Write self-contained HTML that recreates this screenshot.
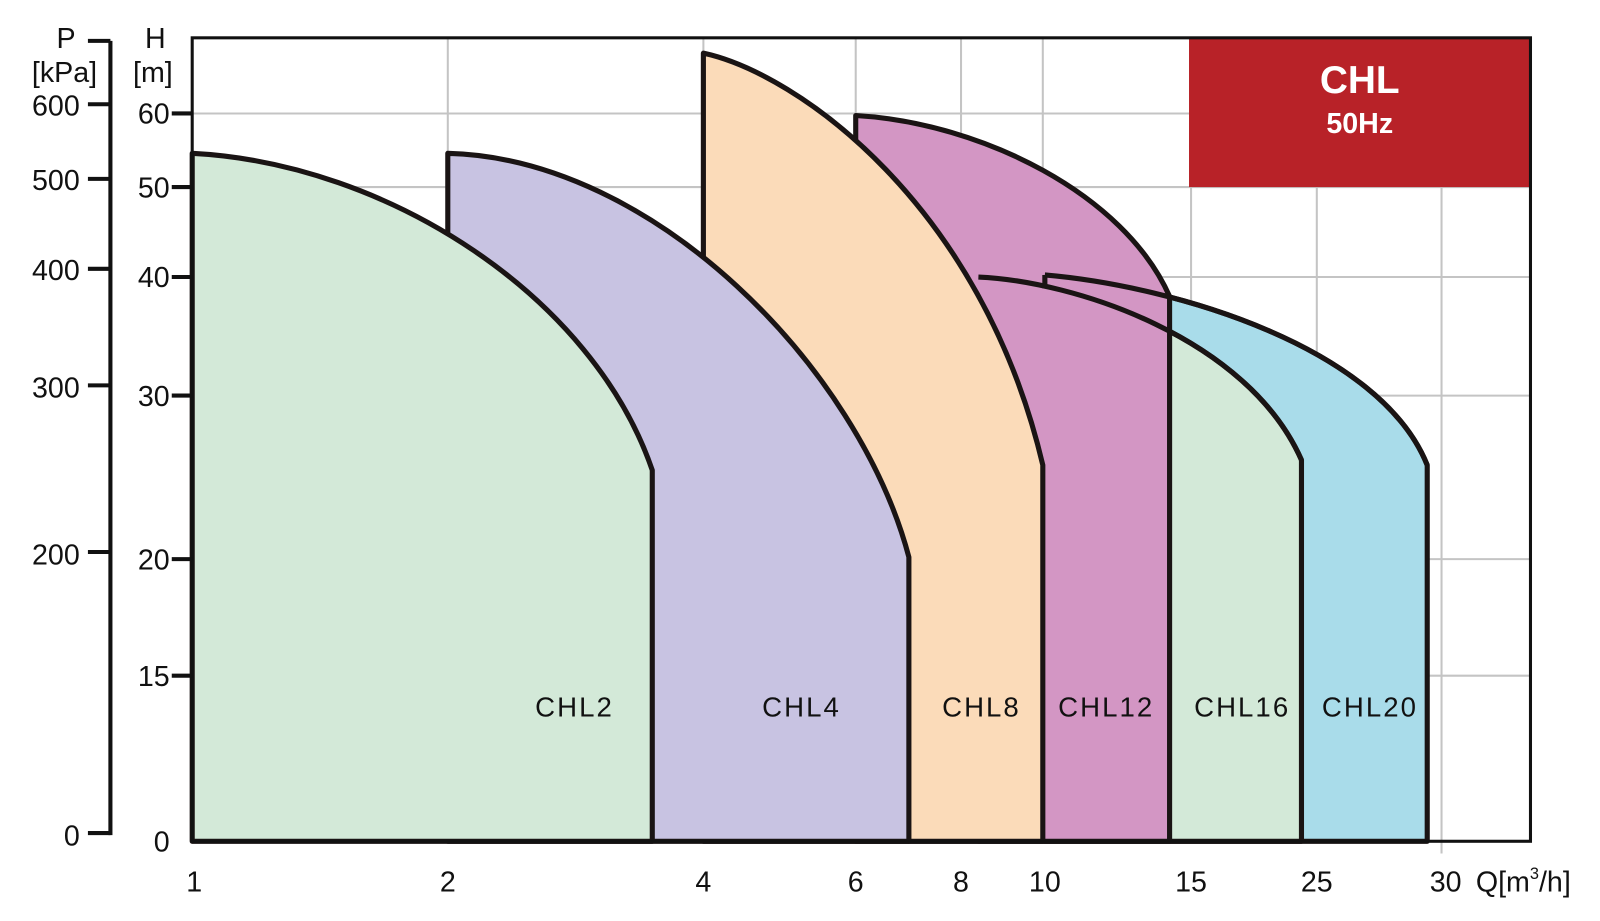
<!DOCTYPE html>
<html><head><style>body{margin:0;background:#fff}svg{display:block}text{font-family:"Liberation Sans",Arial,sans-serif;fill:#111}</style></head>
<body>
<svg width="1600" height="921" viewBox="0 0 1565 901" preserveAspectRatio="none" xmlns="http://www.w3.org/2000/svg">
<g stroke="#c4c4c4" stroke-width="2">
<line x1="438" y1="37" x2="438" y2="823"/><line x1="688" y1="37" x2="688" y2="823"/><line x1="837" y1="37" x2="837" y2="823"/><line x1="940" y1="37" x2="940" y2="823"/><line x1="1020" y1="37" x2="1020" y2="823"/><line x1="1165" y1="37" x2="1165" y2="823"/><line x1="1288" y1="37" x2="1288" y2="823"/><line x1="1410" y1="37" x2="1410" y2="835"/>
<line x1="188" y1="111" x2="1497" y2="111"/><line x1="188" y1="183" x2="1497" y2="183"/><line x1="188" y1="271" x2="1497" y2="271"/><line x1="188" y1="387" x2="1497" y2="387"/><line x1="188" y1="547" x2="1497" y2="547"/><line x1="188" y1="661" x2="1497" y2="661"/>
</g>
<g stroke="#1a1414" stroke-width="5" stroke-linejoin="round">
<path d="M1022,269 C1150,280 1350,340 1396,455 L1396,823 L1022,823 Z" fill="#a9dcea"/>
<path d="M957,271 C1050,275 1220,330 1273,450 L1273,823 L957,823 Z" fill="#d3e9d8"/>
<path d="M837,113 C960,120 1100,190 1144,290 L1144,823 L837,823 Z" fill="#d396c4"/>
<path d="M957,271 C1050,275 1220,330 1273,450" fill="none"/>
<path d="M1022,269 C1150,280 1350,340 1396,455" fill="none"/>
<path d="M1022,269 L1022,282" fill="none"/>
<path d="M688,52 C780,72 960,200 1020,455 L1020,823 L688,823 Z" fill="#fbdbb9"/>
<path d="M438,150 C640,155 840,360 889,545 L889,823 L438,823 Z" fill="#c8c3e2"/>
<path d="M188,150 C380,160 580,290 638,460 L638,823 L188,823 Z" fill="#d3e9d8"/>
</g>
<rect x="1163" y="37" width="334" height="146" fill="#b82228"/>
<text x="1330" y="91" font-size="38" font-weight="bold" text-anchor="middle" style="fill:#fff">CHL</text>
<text x="1330" y="130" font-size="28" font-weight="bold" text-anchor="middle" style="fill:#fff">50Hz</text>
<rect x="188" y="37" width="1309" height="786" fill="none" stroke="#111" stroke-width="3"/>
<g font-size="27" letter-spacing="2" text-anchor="middle">
<text x="562" y="701">CHL2</text><text x="784" y="701">CHL4</text><text x="960" y="701">CHL8</text><text x="1082" y="701">CHL12</text><text x="1215" y="701">CHL16</text><text x="1340" y="701">CHL20</text>
</g>
<g stroke="#111" stroke-width="4">
<line x1="108" y1="40" x2="108" y2="817"/>
<line x1="86" y1="40" x2="108" y2="40"/><line x1="86" y1="102" x2="108" y2="102"/><line x1="86" y1="175" x2="108" y2="175"/><line x1="86" y1="263" x2="108" y2="263"/><line x1="86" y1="377" x2="108" y2="377"/><line x1="86" y1="540" x2="108" y2="540"/><line x1="86" y1="815" x2="108" y2="815"/>
<line x1="168" y1="111" x2="188" y2="111"/><line x1="168" y1="183" x2="188" y2="183"/><line x1="168" y1="271" x2="188" y2="271"/><line x1="168" y1="387" x2="188" y2="387"/><line x1="168" y1="547" x2="188" y2="547"/><line x1="168" y1="661" x2="188" y2="661"/>
</g>
<g font-size="28" text-anchor="end">
<text x="74" y="47">P</text><text x="95" y="80">[kPa]</text>
<text x="78" y="113">600</text><text x="78" y="186">500</text><text x="78" y="274">400</text><text x="78" y="389">300</text><text x="78" y="552">200</text><text x="78" y="827">0</text>
<text x="162" y="47">H</text><text x="169" y="80">[m]</text>
<text x="166" y="121">60</text><text x="166" y="193">50</text><text x="166" y="281">40</text><text x="166" y="397">30</text><text x="166" y="557">20</text><text x="166" y="671">15</text><text x="166" y="833">0</text>
</g>
<g font-size="28" text-anchor="middle">
<text x="190" y="872">1</text><text x="438" y="872">2</text><text x="688" y="872">4</text><text x="837" y="872">6</text><text x="940" y="872">8</text><text x="1022" y="872">10</text><text x="1165" y="872">15</text><text x="1288" y="872">25</text><text x="1414" y="872">30</text>
<text x="1490" y="872">Q[m<tspan font-size="16" dy="-12">3</tspan><tspan dy="12">/h]</tspan></text>
</g>
</svg>
</body></html>
